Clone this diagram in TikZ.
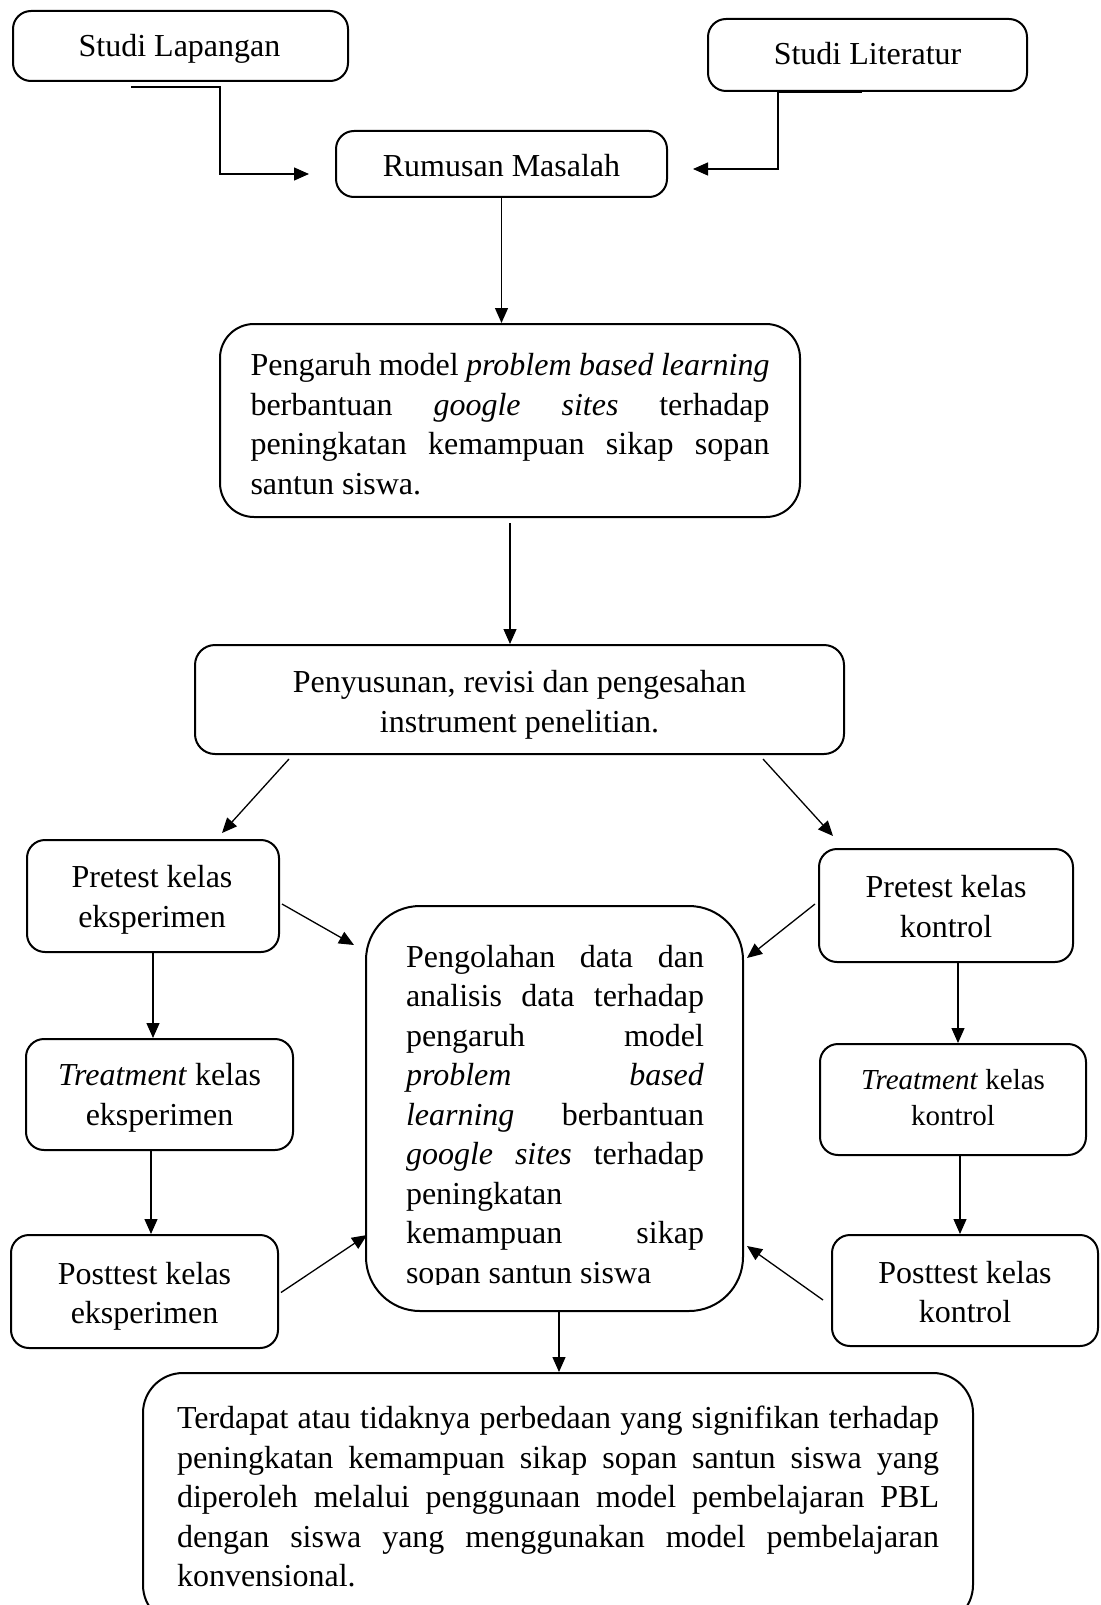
\documentclass[tikz,border=0pt]{standalone}
\usepackage{fontspec}
\setmainfont{Liberation Serif}
\usetikzlibrary{arrows.meta,calc}
\newcommand{\JL}[3][s]{\makebox[#2][#1]{#3}}
\begin{document}
\begin{tikzpicture}[x=0.5pt,y=-0.5pt,
  font=\fontsize{16}{19.75}\selectfont,
  box/.style={draw,line width=1pt,rounded corners=9pt,inner sep=0pt},
  txt/.style={inner sep=0pt,align=center},
  arr/.style={-{Triangle[length=7.5pt,width=6.5pt]},line width=0.65pt}]
\useasboundingbox (0,0) rectangle (1100,1605);
\clip (0,0) rectangle (1100,1605);

% boxes
\node[box,minimum width=167.5pt,minimum height=35pt] (lap) at (180.5,46) {};
\node[box,minimum width=159.5pt,minimum height=36pt] (lit) at (867.5,55) {};
\node[box,minimum width=165.5pt,minimum height=33pt] (rum) at (501.5,164) {};
\node[box,minimum width=290pt,minimum height=96.5pt,rounded corners=17pt] (peng) at (510,420.5) {};
\node[box,minimum width=324.5pt,minimum height=54.5pt,rounded corners=10pt] (pen) at (519.5,699.5) {};
\node[box,minimum width=126pt,minimum height=56pt] (pre) at (153,896) {};
\node[box,minimum width=127pt,minimum height=56.5pt] (prek) at (946,905.5) {};
\node[box,minimum width=133.5pt,minimum height=55.5pt] (tre) at (159.5,1094.5) {};
\node[box,minimum width=133pt,minimum height=55.5pt] (trek) at (953,1099.5) {};
\node[box,minimum width=133.5pt,minimum height=56.5pt] (post) at (144.5,1291.5) {};
\node[box,minimum width=133pt,minimum height=55.5pt] (postk) at (965,1290.5) {};
\node[box,minimum width=188.5pt,minimum height=202.5pt,rounded corners=27pt] (cen) at (554.5,1108.5) {};
\node[box,minimum width=415pt,minimum height=126pt,rounded corners=20pt] (bot) at (558,1499) {};

% texts
\node[txt] (lapt) at ($(lap)+(-1,3)$) {Studi Lapangan};
\node[txt] (litt) at ($(lit)+(0,-1)$) {Studi Literatur};
\node[txt] (rumt) at ($(rum)+(0,2)$) {Rumusan Masalah};
\node[txt] (pengt) at ($(peng)+(0,3.5)$)
  {\JL{259.5pt}{Pengaruh model \textit{problem based learning}}\\
   \JL{259.5pt}{berbantuan \textit{google sites} terhadap}\\
   \JL{259.5pt}{peningkatan kemampuan sikap sopan}\\
   \JL[l]{259.5pt}{santun siswa.}};
\node[txt] (pent) at ($(pen)+(0,5.5)$) {Penyusunan, revisi dan pengesahan\\instrument penelitian.};
\node[txt] (pret) at ($(pre)+(-1,4)$) {Pretest kelas\\eksperimen};
\node[txt] (prekt) at ($(prek)+(0,1)$) {Pretest kelas\\kontrol};
\node[txt] (tret) at ($(tre)+(0,3.5)$) {\textit{Treatment} kelas\\eksperimen};
\node[txt,font=\fontsize{14.5}{17.9}\selectfont] (trekt) at ($(trek)+(0,-2)$) {\textit{Treatment} kelas\\kontrol};
\node[txt] (postt) at ($(post)+(0,5)$) {Posttest kelas\\eksperimen};
\node[txt] (postkt) at ($(postk)+(0,1.5)$) {Posttest kelas\\kontrol};

% text of the central box (clipped at the bottom as in the original)
\begin{scope}
\clip (0,0) rectangle (1100,1284);
\node[txt,align=left] (centxt) at (555,1117.5)
  {\JL{149pt}{Pengolahan data dan}\\
   \JL{149pt}{analisis data terhadap}\\
   \JL{149pt}{pengaruh model}\\
   \JL{149pt}{\textit{problem} \textit{based}}\\
   \JL{149pt}{\textit{learning} berbantuan}\\
   \JL{149pt}{\textit{google sites} terhadap}\\
   \JL[l]{149pt}{peningkatan}\\
   \JL{149pt}{kemampuan sikap}\\
   \JL[l]{149pt}{sopan santun siswa}};
\end{scope}

\node[txt,align=left] (bottxt) at (558,1496.5)
  {\JL{381pt}{Terdapat atau tidaknya perbedaan yang signifikan terhadap}\\
   \JL{381pt}{peningkatan kemampuan sikap sopan santun siswa yang}\\
   \JL{381pt}{diperoleh melalui penggunaan model pembelajaran PBL}\\
   \JL{381pt}{dengan siswa yang menggunakan model pembelajaran}\\
   \JL[l]{381pt}{konvensional.}};

% connectors
\coordinate (lapout) at (131,87);
\coordinate (rumin) at (309,174);
\coordinate (litout) at (862,92);
\coordinate (litin) at (693,169);
\draw[arr] (lapout) -| ($(rumin)+(-89,0)$) -- (rumin);
\draw[arr] (litout) -| ($(litin)+(85,0)$) -- (litin);

\draw[arr] (rum.south) -- (rum.south |- peng.north);
\draw[arr,shorten <=2.5pt] (peng.south) -- (peng.south |- pen.north);
\draw[arr] ($(pen.south west)+(95,4)$) -- ($(pre.north east)+(-58,-6)$);
\draw[arr] ($(pen.south east)+(-82,4)$) -- ($(prek.north west)+(15,-12)$);

\draw[arr] ($(pre.east)+(2,8)$) -- ($(cen.north west)+(-11,40)$);
\draw[arr] ($(post.east)+(2,1)$) -- ($(cen.south west)+(2,-77)$);
\draw[arr] ($(prek.west)+(-3,-1.5)$) -- ($(cen.north east)+(3,53)$);
\draw[arr] ($(postk.west)+(-8,9.5)$) -- ($(cen.south east)+(3,-66)$);

\draw[arr] (pre.south) -- (pre.south |- tre.north);
\coordinate (t1) at ($(tre.south)+(-8.5,0)$);
\draw[arr] (t1) -- (t1 |- post.north);
\coordinate (k1) at ($(prek.south)+(12,0)$);
\draw[arr] (k1) -- (k1 |- trek.north);
\coordinate (k2) at ($(trek.south)+(7,0)$);
\draw[arr] (k2) -- (k2 |- postk.north);
\coordinate (c1) at ($(cen.south)+(4.5,0)$);
\draw[arr] (c1) -- (c1 |- bot.north);
\end{tikzpicture}
\end{document}
